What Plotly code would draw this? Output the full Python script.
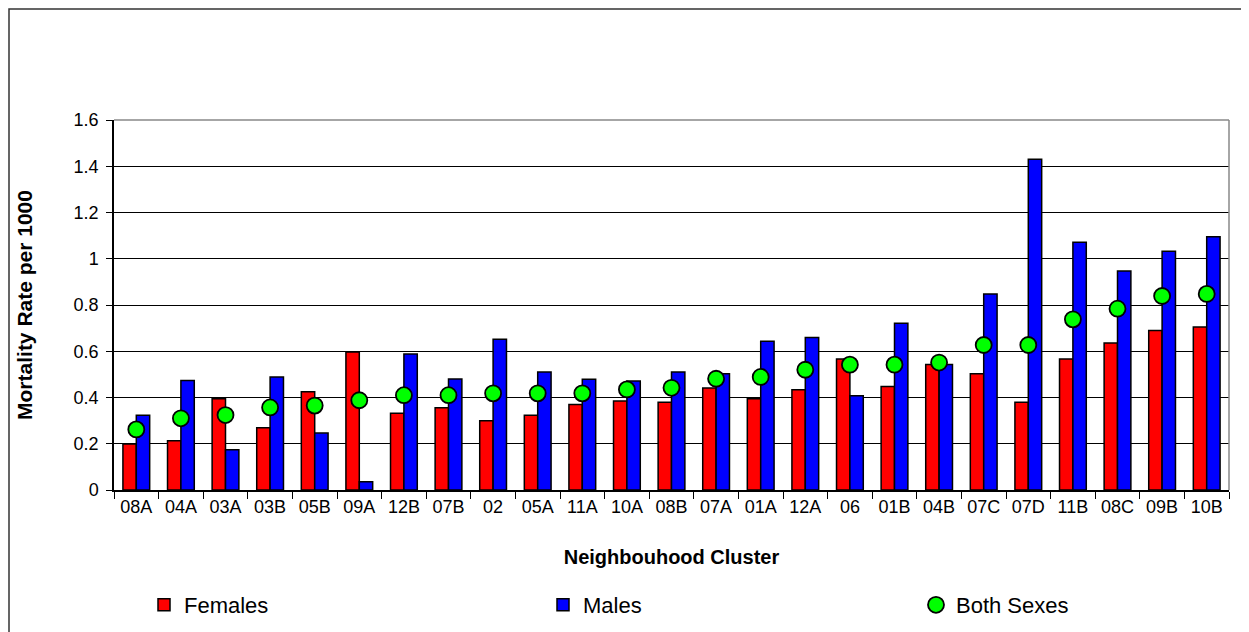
import plotly.graph_objects as go

clusters = ["08A", "04A", "03A", "03B", "05B", "09A", "12B", "07B", "02", "05A",
            "11A", "10A", "08B", "07A", "01A", "12A", "06", "01B", "04B", "07C",
            "07D", "11B", "08C", "09B", "10B"]
females = [0.199, 0.213, 0.395, 0.269, 0.425, 0.597, 0.332, 0.356, 0.300, 0.323,
           0.370, 0.385, 0.379, 0.441, 0.395, 0.434, 0.566, 0.448, 0.543, 0.503,
           0.379, 0.566, 0.636, 0.690, 0.705]
males = [0.323, 0.473, 0.174, 0.489, 0.246, 0.036, 0.588, 0.480, 0.652, 0.510,
         0.479, 0.471, 0.510, 0.503, 0.643, 0.659, 0.408, 0.721, 0.543, 0.848,
         1.430, 1.071, 0.947, 1.032, 1.095]
both = [0.262, 0.310, 0.324, 0.357, 0.365, 0.388, 0.410, 0.410, 0.418, 0.418,
        0.418, 0.435, 0.442, 0.481, 0.489, 0.520, 0.542, 0.542, 0.551, 0.627,
        0.627, 0.738, 0.784, 0.839, 0.848]

# page body has an 8px margin; figure is sized so it fills the visible window
OFF = 8
W, H = 1249 - OFF, 632 - OFF
PL, PR, PT, PB = 114, 1229, 120, 490  # plot area in page pixels
L, R, T, B = PL - OFF, 1249 - PR, PT - OFF, 632 - PB
PW, PH = PR - PL, PB - PT

def px(x):
    return (x - PL) / PW

def py(y):
    return (PB - y) / PH

FONT = "Liberation Sans, Arial, sans-serif"

fig = go.Figure()
fig.add_trace(go.Bar(x=clusters, y=females, name="Females",
                     marker=dict(color="#FF0000", line=dict(color="black", width=1.5)),
                     legend="legend2"))
fig.add_trace(go.Bar(x=clusters, y=males, name="Males",
                     marker=dict(color="#0000FF", line=dict(color="black", width=1.5)),
                     legend="legend3"))
fig.add_trace(go.Scatter(x=clusters, y=both, name="Both Sexes", mode="markers",
                         marker=dict(color="#00FF00", size=16, line=dict(color="black", width=1.8)),
                         legend="legend4"))

leg_common = dict(orientation="h", yanchor="middle", xanchor="left",
                  font=dict(family=FONT, size=22, color="black"),
                  bgcolor="rgba(0,0,0,0)")

fig.update_layout(
    width=W, height=H,
    margin=dict(l=L, r=R, t=T, b=B, autoexpand=False),
    paper_bgcolor="white", plot_bgcolor="white",
    barmode="group", bargap=0.4, bargroupgap=0,
    font=dict(family=FONT, color="black"),
    legend2=dict(x=px(144), y=py(605), **leg_common),
    legend3=dict(x=px(543), y=py(605), **leg_common),
    legend4=dict(x=px(916), y=py(605), **leg_common),
    xaxis=dict(
        type="category", range=[-0.5, len(clusters) - 0.5],
        tickson="boundaries", ticks="outside", ticklen=7,
        tickangle=0,
        tickcolor="black", tickwidth=1, showline=True, linecolor="black", linewidth=1.5,
        showgrid=False, tickfont=dict(family=FONT, size=18, color="black"),
        title=dict(text="<b>Neighbouhood Cluster</b>", standoff=34,
                   font=dict(family=FONT, size=20, color="black")),
    ),
    yaxis=dict(
        range=[0, 1.6], dtick=0.2, ticks="outside", ticklen=6, tickcolor="black",
        showline=True, linecolor="black", linewidth=1.5,
        showgrid=True, gridcolor="black", gridwidth=1, zeroline=False,
        tickfont=dict(family=FONT, size=18, color="black"), ticklabelstandoff=4,
        title=dict(text="<b>Mortality Rate per 1000</b>", standoff=35,
                   font=dict(family=FONT, size=21, color="black")),
    ),
    shapes=[
        dict(type="line", xref="paper", yref="paper", x0=0, x1=1, y0=1, y1=1,
             line=dict(color="#888888", width=1.5), layer="above"),
        dict(type="line", xref="paper", yref="paper", x0=1, x1=1, y0=0, y1=1,
             line=dict(color="#888888", width=1.5), layer="above"),
        dict(type="rect", xref="paper", yref="paper",
             x0=px(9), x1=px(1246), y0=py(650), y1=py(9),
             line=dict(color="#333333", width=1.5), layer="above"),
    ],
)

fig.write_html("out.html")
